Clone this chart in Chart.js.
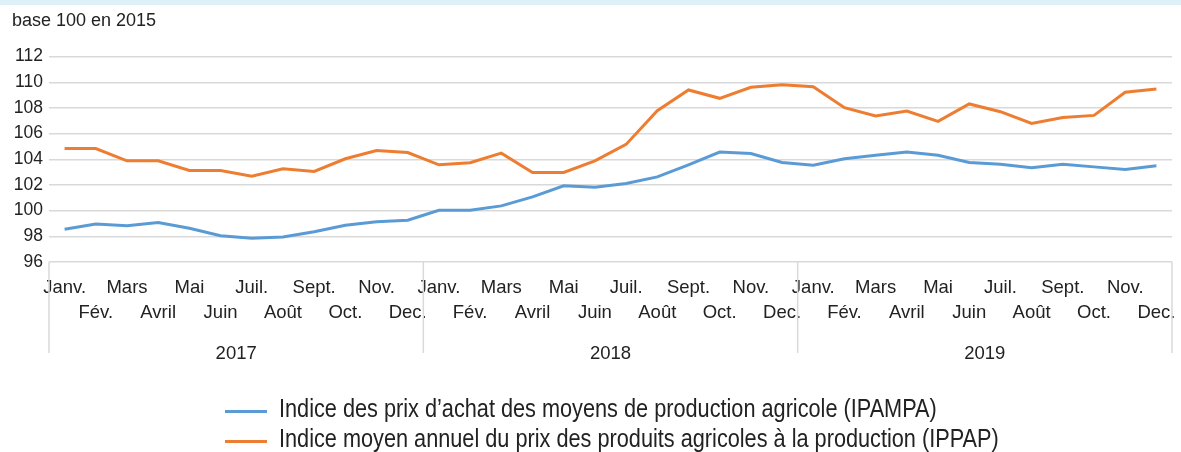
<!DOCTYPE html>
<html lang="fr">
<head>
<meta charset="utf-8">
<title>IPAMPA / IPPAP</title>
<script src="https://cdn.jsdelivr.net/npm/chart.js@4.4.1/dist/chart.umd.min.js"></script>
<style>
  html, body { margin: 0; padding: 0; background: #fff; }
  #wrap { position: relative; width: 1181px; height: 452px; overflow: hidden; }
  #band { position: absolute; left: 0; top: 0; width: 1181px; height: 5px; background: #def1f9; }
  #chart { position: absolute; left: 0; top: 0; }
  .leg { position: absolute; left: 225px; height: 30px; line-height: 30.3px; white-space: nowrap;
         font-family: 'Liberation Sans', Arial, sans-serif;
         font-size: 25px; color: #222; }
  .leg .sw { position: absolute; left: 0; top: 17px; width: 42px; height: 3px; }
  .leg .txt { position: absolute; left: 54px; top: 0; transform: scaleX(0.868); transform-origin: 0 0; }
</style>
</head>
<body>
<div id="wrap">
  <div id="band"></div>
  <canvas id="chart" width="1181" height="452"></canvas>
  <div class="leg" id="leg1" style="top:393px"><span class="sw"></span><span class="txt"></span></div>
  <div class="leg" id="leg2" style="top:423.3px"><span class="sw"></span><span class="txt"></span></div>
</div>
<script>
const months = ['Janv.', 'Fév.', 'Mars', 'Avril', 'Mai', 'Juin', 'Juil.', 'Août', 'Sept.', 'Oct.', 'Nov.', 'Dec.'];
const years = ['2017', '2018', '2019'];
const yTicks = { min: 96, max: 112, step: 2 };

const ipampaName = 'Indice des prix d’achat des moyens de production agricole (IPAMPA)';
const ipampa = [
    98.55, 98.96, 98.83, 99.07, 98.63, 98.05, 97.85, 97.95, 98.36, 98.86, 99.14, 99.25,
    100.03, 100.03, 100.37, 101.07, 101.93, 101.83, 102.11, 102.63, 103.57, 104.56, 104.45, 103.75,
    103.54, 104.04, 104.32, 104.56, 104.32, 103.75, 103.62, 103.34, 103.62, 103.41, 103.20, 103.50
];

const ippapName = 'Indice moyen annuel du prix des produits agricoles à la production (IPPAP)';
const ippap = [
    104.84, 104.84, 103.88, 103.88, 103.13, 103.13, 102.69, 103.26, 103.05, 104.04, 104.69, 104.53,
    103.57, 103.73, 104.48, 102.97, 102.97, 103.88, 105.16, 107.79, 109.40, 108.75, 109.61, 109.81,
    109.66, 108.02, 107.37, 107.76, 106.95, 108.31, 107.71, 106.80, 107.26, 107.42, 109.22, 109.48
];

const blue = '#5b9bd5';
const orange = '#ed7d31';
const textColor = '#222222';
const gridColor = '#d9d9d9';

// libellés des mois sur deux lignes (un sur deux en bas)
const monthLabels = [];
years.forEach(() => {
    months.forEach((m, i) => {
        monthLabels.push(i % 2 === 0 ? [m, ''] : ['', m]);
    });
});

// traits verticaux entre les années (axe à deux niveaux)
const yearSeparators = {
    id: 'yearSeparators',
    afterDraw(chart) {
        const x = chart.scales.x;
        const x2 = chart.scales.x2;
        const ctx = chart.ctx;
        ctx.save();
        ctx.strokeStyle = gridColor;
        ctx.lineWidth = 1.5;
        for (let k = 0; k <= years.length; k++) {
            const px = x.getPixelForValue(k * months.length - 0.5);
            ctx.beginPath();
            ctx.moveTo(px, chart.chartArea.bottom);
            ctx.lineTo(px, x2.top + 16);
            ctx.stroke();
        }
        ctx.restore();
    }
};

Chart.defaults.font.family = "'Liberation Sans', Arial, sans-serif";
Chart.defaults.color = textColor;

new Chart(document.getElementById('chart').getContext('2d'), {
    type: 'line',
    data: {
        labels: monthLabels,
        datasets: [{
            label: ipampaName,
            data: ipampa,
            borderColor: blue,
            backgroundColor: blue,
            borderWidth: 3,
            pointRadius: 0,
            tension: 0
        }, {
            label: ippapName,
            data: ippap,
            borderColor: orange,
            backgroundColor: orange,
            borderWidth: 3,
            pointRadius: 0,
            tension: 0
        }]
    },
    options: {
        responsive: false,
        animation: false,
        layout: { padding: { left: 12, right: 9, top: 0, bottom: 85 } },
        plugins: {
            legend: { display: false },
            tooltip: { enabled: false },
            title: {
                display: true,
                text: 'base 100 en 2015',
                align: 'start',
                color: textColor,
                font: { size: 18, weight: 'normal' },
                padding: { top: 10, bottom: 25 }
            }
        },
        scales: {
            x: {
                offset: true,
                grid: { display: false, drawTicks: false },
                border: { display: false },
                ticks: {
                    autoSkip: false,
                    maxRotation: 0,
                    minRotation: 0,
                    padding: 13,
                    color: textColor,
                    font: { size: 18.5, lineHeight: 1.35 }
                },
                afterFit(s) {
                    s.height = 75;
                    s.paddingLeft = 0;
                    s.paddingRight = 0;
                }
            },
            x2: {
                type: 'category',
                position: 'bottom',
                weight: 1,
                labels: years,
                offset: true,
                grid: { display: false, drawTicks: false },
                border: { display: false },
                ticks: {
                    padding: 6,
                    color: textColor,
                    font: { size: 18.5 }
                },
                afterFit(s) {
                    s.height = 30;
                    s.paddingLeft = 0;
                    s.paddingRight = 0;
                }
            },
            y: {
                min: yTicks.min,
                max: yTicks.max,
                grid: { color: gridColor, lineWidth: 1.5, drawTicks: false },
                border: { display: false },
                ticks: {
                    stepSize: yTicks.step,
                    autoSkip: false,
                    padding: 6,
                    color: textColor,
                    font: { size: 17.5 }
                },
                afterFit(s) {
                    s.width = 37;
                    s.paddingTop = 0;
                    s.paddingBottom = 0;
                }
            }
        }
    },
    plugins: [yearSeparators]
});

// légende
[[ 'leg1', ipampaName, blue ], [ 'leg2', ippapName, orange ]].forEach(([id, name, color]) => {
    const el = document.getElementById(id);
    el.querySelector('.sw').style.background = color;
    el.querySelector('.txt').textContent = name;
});
</script>
</body>
</html>
